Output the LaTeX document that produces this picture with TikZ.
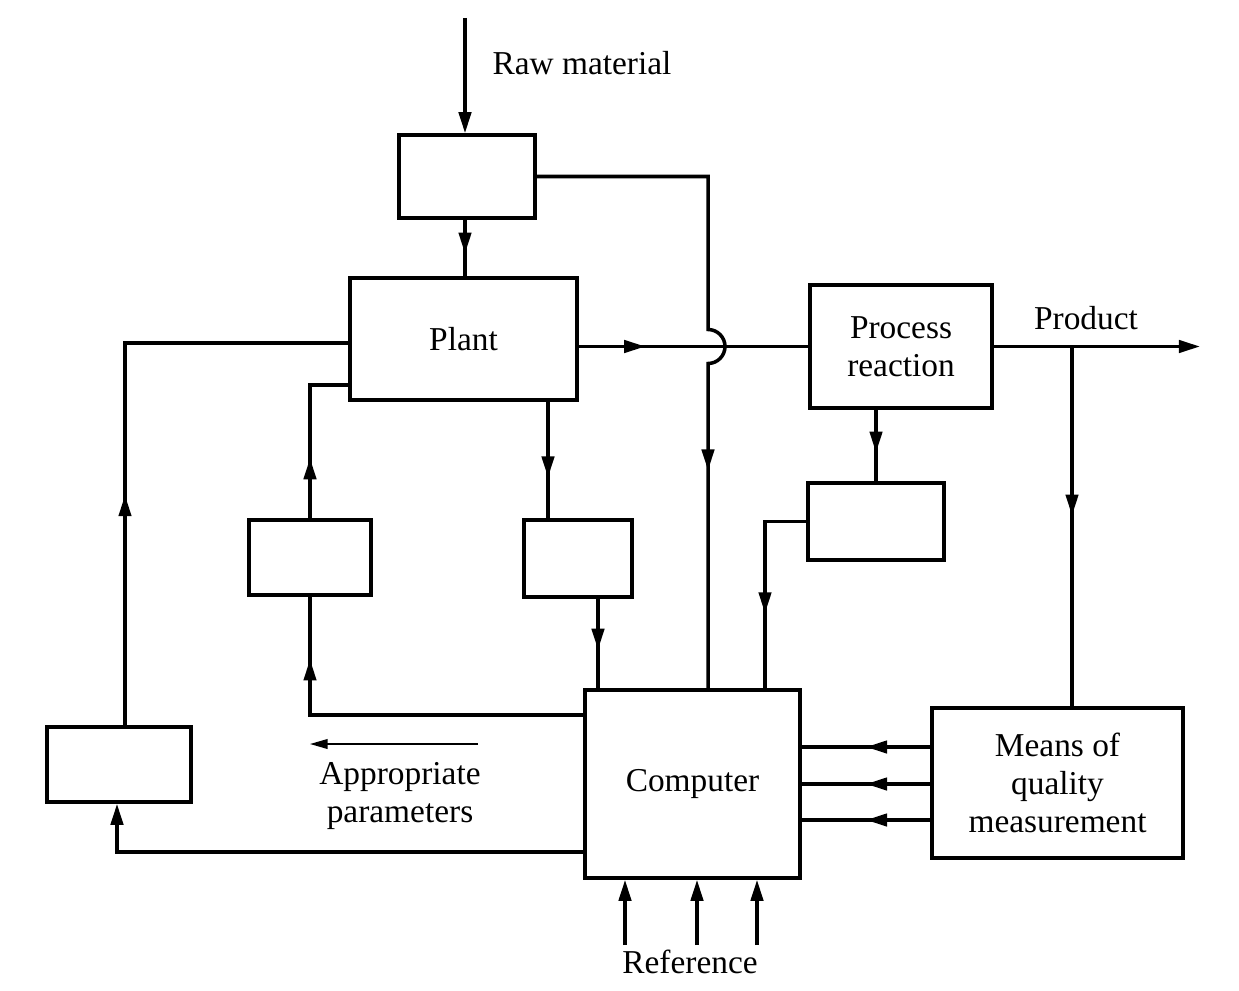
\documentclass[tikz,border=0pt]{standalone}
\usepackage{fontspec}
\setmainfont{Liberation Serif}
\usetikzlibrary{positioning,calc,arrows.meta,decorations.markings}
\tikzset{>={Triangle[length=12pt,width=7pt]},
ve/.style={rectangle,draw,inner sep=1mm,align=center,font=\fontsize{19}{21.5}\selectfont},
el/.style={align=center,font=\fontsize{19}{21.5}\selectfont},
midarr/.style={postaction={decorate},decoration={markings,mark=at position #1 with {\arrow{>}}}},
endarr/.style={->},
}
\begin{document}
\begin{tikzpicture}[x=0.02cm,y=-0.02cm,line width=2pt]
	\useasboundingbox (0,0) rectangle (1239,990);

	\node[el] (raw) at (582,63) {Raw material};
	\node[ve,minimum width=2.72cm,minimum height=1.66cm] (feed) at (467,176.5) {};
	\node[ve,minimum width=4.54cm,minimum height=2.44cm] (plant) at (463.5,339) {Plant};
	\node[ve,minimum width=3.64cm,minimum height=2.46cm] (proc) at (901,346.5) {Process\\reaction};
	\node[el] (product) at (1086,318) {Product};
	\node[ve,minimum width=2.72cm,minimum height=1.54cm] (sens) at (876,521.5) {};
	\node[ve,minimum width=2.16cm,minimum height=1.54cm] (meas) at (578,558.5) {};
	\node[ve,minimum width=2.44cm,minimum height=1.5cm] (act) at (310,557.5) {};
	\node[ve,minimum width=2.88cm,minimum height=1.5cm] (ctrl) at (119,764.5) {};
	\node[ve,minimum width=4.3cm,minimum height=3.76cm] (comp) at (692.5,784) {Computer};
	\node[ve,minimum width=5.02cm,minimum height=3cm] (qual) at (1057.5,783) {Means of\\quality\\measurement};
	\node[el] (appr) at (400,796) {Appropriate\\parameters};
	\node[el] (ref) at (690,962) {Reference};

	\coordinate (rawin) at (465,18);
	\coordinate (hop) at (708,346.5);
	\coordinate (tap) at (1072,346.5);
	\coordinate (out) at (1200,346.5);
	\coordinate (apprA) at (478,744);
	\coordinate (apprB) at (310,744);

	% raw material in, feed to plant
	\draw[endarr] (rawin) -- (rawin |- feed.north);
	\draw[midarr=0.6] (feed.south -| rawin) -- (plant.north -| rawin);
	\draw[midarr=0.69] (feed.east) -- (feed.east -| hop) -- ($(hop)+(0,-17)$)
		arc (-90:90:17) -- (comp.north -| hop);

	% plant, reaction, product
	\draw[midarr=0.29] (plant.east |- proc.west) -- (proc.west);
	\draw[endarr] (proc.east) -- (out);
	\draw[midarr=0.47] (tap) -- (qual.north -| tap);
	\draw[midarr=0.6] (sens.north |- proc.south) -- (sens.north);
	\draw[midarr=0.64] (sens.west) -- (765,521.5) -- (comp.north -| 765,0);
	\draw[midarr=0.65] (plant.south -| 548,0) -- (meas.north -| 548,0);
	\draw[midarr=0.57] (meas.south -| 598,0) -- (comp.north -| 598,0);

	% computer back to plant
	\draw[midarr=0.84] (comp.west |- 0,715) -- (310,715) -- (act.south);
	\draw[midarr=0.35] (act.north) -- (310,385) -- (plant.west |- 0,385);
	\draw[midarr=0.38] (ctrl.north -| 125,0) -- (125,343) -- (plant.west |- 0,343);
	\draw[endarr] (comp.west |- 0,852) -- (117,852) -- (ctrl.south -| 117,0);
	\draw[endarr,line width=0.9pt,>={Triangle[length=10pt,width=5.5pt]}] (apprA) -- (apprB);

	% quality and reference inputs
	\foreach \y in {747,784,820}
		\draw[midarr=0.5] (qual.west |- 0,\y) -- (comp.east |- 0,\y);
	\foreach \x in {625,697,757}
		\draw[endarr] (\x,945) -- (comp.south -| \x,0);
\end{tikzpicture}
\end{document}
